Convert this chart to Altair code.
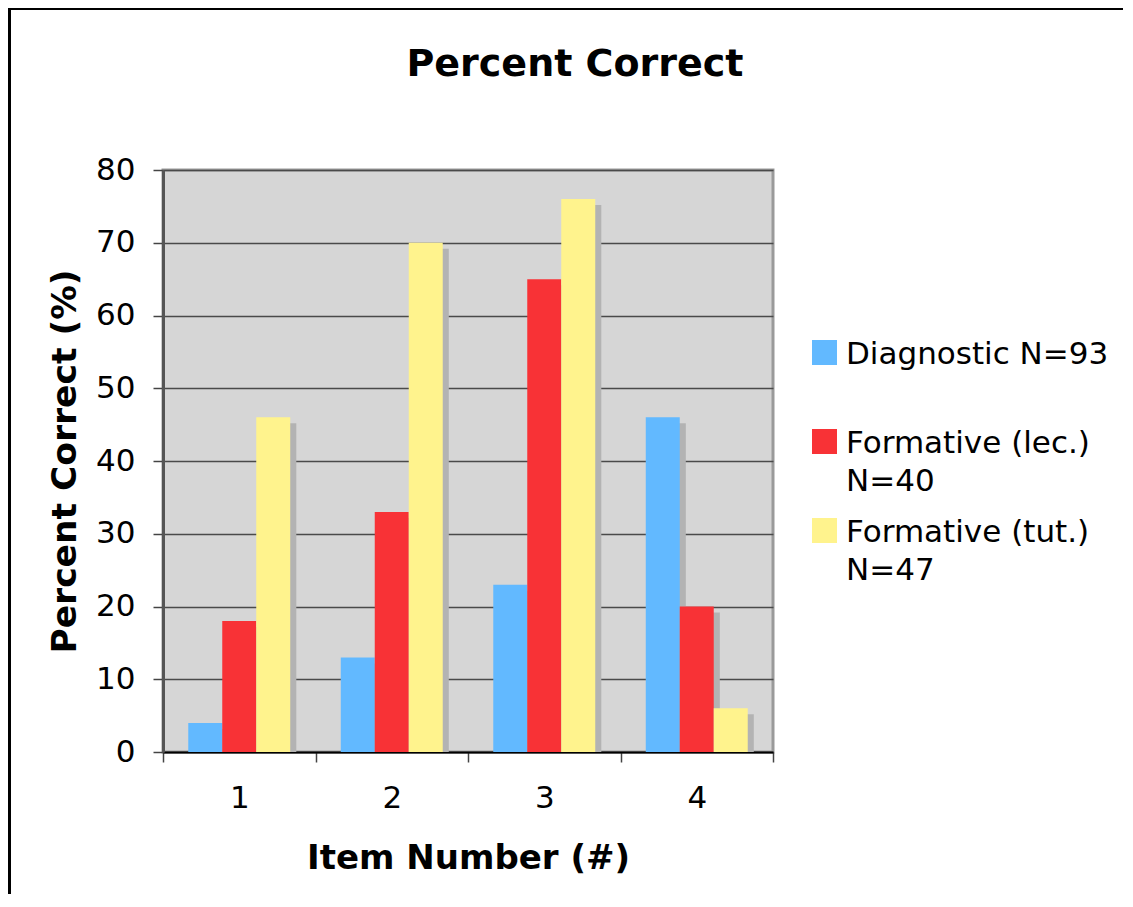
import altair as alt
import pandas as pd

items = ["1", "2", "3", "4"]
series = ["Diagnostic N=93", "Formative (lec.) N=40", "Formative (tut.) N=47"]
diagnostic = [4, 13, 23, 46]
formative_lec = [18, 33, 65, 20]
formative_tut = [46, 70, 76, 6]
colors = ["#62B9FF", "#F83236", "#FFF38D"]
y_ticks = [0, 10, 20, 30, 40, 50, 60, 70, 80]

rows = []
for name, vals in zip(series, [diagnostic, formative_lec, formative_tut]):
    for it, v in zip(items, vals):
        rows.append({"item": it, "series": name, "value": v})
df = pd.DataFrame(rows)

FONT = "DejaVu Sans"

x_enc = alt.X(
    "item:N",
    sort=items,
    scale=alt.Scale(paddingInner=0, paddingOuter=0),
    axis=alt.Axis(
        title="Item Number (#)",
        labelAngle=0,
        tickBand="extent",
        grid=False,
        domainColor="#000000",
        domainWidth=2,
        tickColor="#444444",
        tickWidth=1.5,
        tickSize=10,
        labelFontSize=31,
        labelPadding=21,
        labelColor="#000000",
        titleFontSize=34,
        titleFontWeight="bold",
        titlePadding=28,
        titleColor="#000000",
    ),
)
y_enc = alt.Y(
    "value:Q",
    stack=None,
    scale=alt.Scale(domain=[0, 80], nice=False),
    axis=alt.Axis(
        title="Percent Correct (%)",
        values=y_ticks,
        grid=True,
        gridColor="#4A4A4A",
        gridWidth=1.5,
        domainColor="#555555",
        domainWidth=3,
        tickColor="#444444",
        tickWidth=1.5,
        tickSize=10,
        labelFontSize=31,
        labelPadding=18,
        labelColor="#000000",
        titleFontSize=34.5,
        titleFontWeight="bold",
        titlePadding=13,
        titleColor="#000000",
    ),
)

frame = alt.Chart(alt.Data(values=[{"a": 1}])).mark_rect(
    fillOpacity=0, stroke="#000000", strokeWidth=3
).encode(
    x=alt.value(-153.5), x2=alt.value(1000), y=alt.value(-161.5), y2=alt.value(900)
)

shadows = alt.Chart(df).mark_bar(color="#B3B3B3", yOffset=6).encode(
    x=x_enc,
    y=y_enc,
    xOffset=alt.XOffset(
        "series:N",
        sort=series,
        scale=alt.Scale(paddingInner=0, paddingOuter=0.743, align=0.62),
    ),
)

bars = alt.Chart(df).mark_bar().encode(
    x=x_enc,
    y=y_enc,
    xOffset=alt.XOffset(
        "series:N",
        sort=series,
        scale=alt.Scale(paddingInner=0, paddingOuter=0.743, align=0.5),
    ),
    color=alt.Color(
        "series:N",
        sort=series,
        scale=alt.Scale(domain=series, range=colors),
        legend=alt.Legend(
            title=None,
            orient="none",
            legendX=646,
            legendY=154,
            padding=0,
            symbolType="M-1,0.04H1V2.04H-1Z",
            symbolSize=625,
            symbolStrokeWidth=0,
            symbolOpacity=1,
            labelFontSize=31,
            labelColor="#000000",
            labelBaseline="top",
            labelOffset=6,
            labelLimit=500,
            rowPadding=5,
            labelExpr="indexof(datum.label, ')') > 0 ? split(replace(datum.label, ') N=', ')|N='), '|') : [datum.label, ' ']",
        ),
    ),
)

chart = (
    alt.layer(frame, shadows, bars)
    .resolve_scale(xOffset="independent")
    .properties(
        width=610,
        height=582,
        autosize="none",
        padding={"left": 155, "top": 162, "right": 350, "bottom": 142},
        title=alt.TitleParams(
            "Percent Correct",
            fontSize=38,
            fontWeight="bold",
            font=FONT,
            color="#000000",
            anchor="middle",
            frame="group",
            offset=0,
            dx=107,
            dy=77,
        ),
    )
    .configure(font=FONT, style={"guide-label": {"lineHeight": 38}})
    .configure_view(fill="#D6D6D6", stroke="#9A9A9A", strokeWidth=3)
)

chart.save("out.html", embed_options={"renderer": "svg", "actions": False})
